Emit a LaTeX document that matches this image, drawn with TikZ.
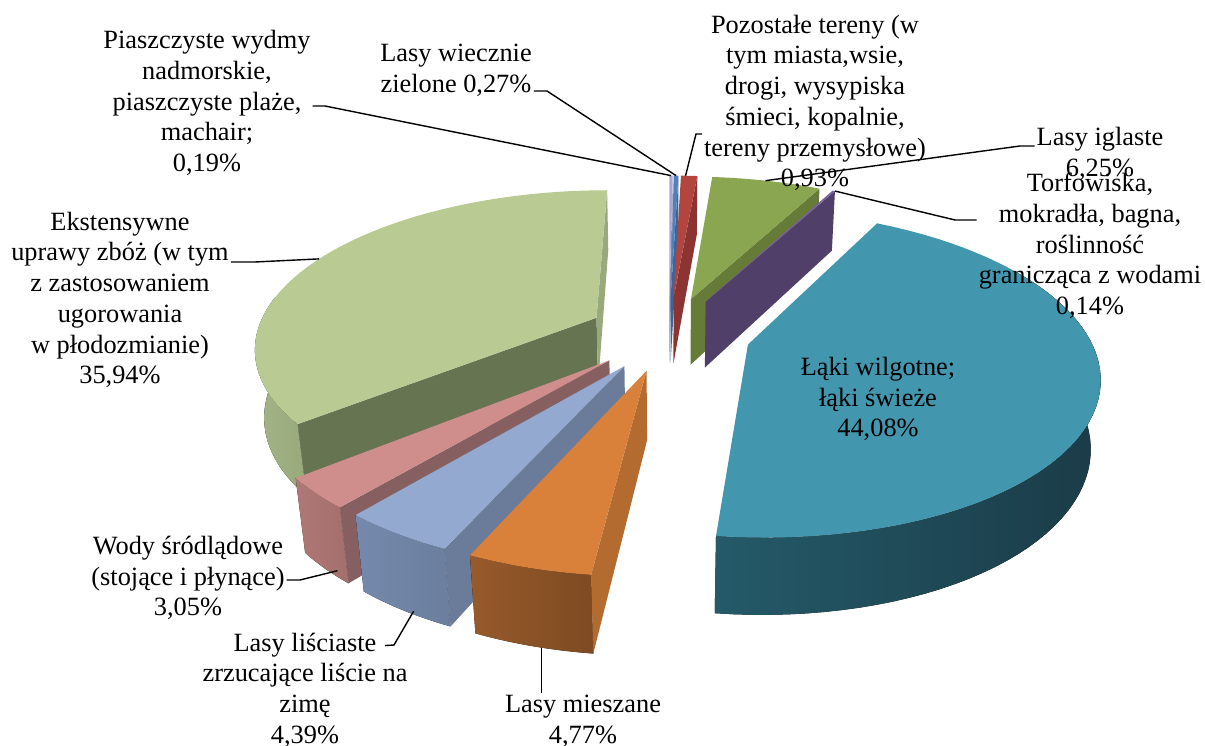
\documentclass[tikz,border=0pt]{standalone}
\usepackage{fontspec}
\setmainfont{Liberation Serif}

% pie seen in perspective (radius 1, height \pieh, explosion \piee)
\newcommand{\pieF}{1696}
\newcommand{\pieD}{5.098}
\newcommand{\piec}{0.872}
\newcommand{\pies}{0.49}
\newcommand{\pieh}{0.228}
\newcommand{\piee}{0.24}

\definecolor{lavTop}{HTML}{ADA6D2}\definecolor{lavSide}{HTML}{8A83AE}
\definecolor{wieTop}{HTML}{4F81BD}\definecolor{wieSide}{HTML}{3D6696}
\definecolor{pozTop}{HTML}{B2463F}\definecolor{pozSide}{HTML}{8C3431}
\definecolor{iglTop}{HTML}{8AA650}\definecolor{iglSide}{HTML}{657B37}
\definecolor{torTop}{HTML}{7A64A0}\definecolor{torSide}{HTML}{503F69}
\definecolor{eksTop}{HTML}{B9CB93}\definecolor{eksSide}{HTML}{677452}
\definecolor{eksWallL}{HTML}{A3B486}\definecolor{eksWallR}{HTML}{98A97B}
\definecolor{lakTop}{HTML}{4297AF}
\definecolor{lakWallL}{HTML}{245A69}\definecolor{lakWallR}{HTML}{1B3B47}
\definecolor{wodTop}{HTML}{CF8E8C}\definecolor{wodSide}{HTML}{866060}
\definecolor{wodWallL}{HTML}{AE7876}\definecolor{wodWallR}{HTML}{A36F6D}
\definecolor{lisTop}{HTML}{93A9D0}\definecolor{lisSide}{HTML}{6A7C9A}
\definecolor{lisWallL}{HTML}{7489AD}\definecolor{lisWallR}{HTML}{6B7E9D}
\definecolor{mieTop}{HTML}{D9803B}\definecolor{mieSide}{HTML}{B36B2F}
\definecolor{mieWallL}{HTML}{975A2B}\definecolor{mieWallR}{HTML}{7E4A21}

\newcommand{\slice}[1]{\pgfmathsetmacro\pmid{#1}}
\newcommand{\pietop}[3]{\fill[#3] ({scrx(\pmid,0,0,\pieh)},{scry(\pmid,0,0,\pieh)})
  -- plot[variable=\x,domain=#1:#2,samples=50] ({scrx(\pmid,\x,1,\pieh)},{scry(\pmid,\x,1,\pieh)}) -- cycle;}
\newcommand{\piewall}[3]{\fill[#3] plot[variable=\x,domain=#1:#2,samples=50] ({scrx(\pmid,\x,1,\pieh)},{scry(\pmid,\x,1,\pieh)})
  -- plot[variable=\x,domain=#2:#1,samples=50] ({scrx(\pmid,\x,1,0)},{scry(\pmid,\x,1,0)}) -- cycle;}
\newcommand{\pieside}[2]{\fill[#2] ({scrx(\pmid,0,0,\pieh)},{scry(\pmid,0,0,\pieh)})
  -- ({scrx(\pmid,#1,1,\pieh)},{scry(\pmid,#1,1,\pieh)}) -- ({scrx(\pmid,#1,1,0)},{scry(\pmid,#1,1,0)})
  -- ({scrx(\pmid,0,0,0)},{scry(\pmid,0,0,0)}) -- cycle;}

\begin{document}
\begin{tikzpicture}[x=0.02cm,y=-0.02cm,
  declare function={
    zz(\aM,\aT,\aR)=\piee*cos(\aM)+\aR*cos(\aT);
    dep(\aM,\aT,\aR,\aH)=\pieD+zz(\aM,\aT,\aR)*\piec-\aH*\pies;
    scrx(\aM,\aT,\aR,\aH)=669+\pieF*(\piee*sin(\aM)+\aR*sin(\aT))/dep(\aM,\aT,\aR,\aH);
    scry(\aM,\aT,\aR,\aH)=401-\pieF*(\aH*\piec+zz(\aM,\aT,\aR)*\pies)/dep(\aM,\aT,\aR,\aH);
  },
  lbl/.style={align=center,font=\fontsize{15}{17.5}\selectfont,inner sep=1pt},
  leader/.style={draw=black,line width=0.8pt}]
\useasboundingbox (0,0) rectangle (1205,746);

% far slices first
\slice{0.342}   \pieside{0.684}{lavSide}  \pietop{0}{0.684}{lavTop}
\slice{1.17}    \pieside{1.656}{wieSide}  \pietop{0.684}{1.656}{wieTop}
\slice{3.33}    \pieside{5.004}{pozSide}  \pietop{1.656}{5.004}{pozTop}
\slice{16.254}  \pieside{27.504}{iglSide} \pietop{5.004}{27.504}{iglTop}
\slice{27.756}  \pieside{28.008}{torSide} \pietop{27.504}{28.008}{torTop}
\slice{295.326} \piewall{230.652}{278}{left color=eksWallL,right color=eksWallR}
  \pieside{230.652}{eksSide} \pieside{360}{eksWallR} \pietop{230.652}{360}{eksTop}
\slice{107.352} \piewall{60}{186.696}{left color=lakWallL,right color=lakWallR}
  \pietop{28.008}{186.696}{lakTop}
\slice{225.162} \piewall{219.672}{230.652}{left color=wodWallL,right color=wodWallR}
  \pieside{219.672}{wodSide} \pietop{219.672}{230.652}{wodTop}
\slice{211.77}  \piewall{203.868}{219.672}{left color=lisWallL,right color=lisWallR}
  \pieside{203.868}{lisSide} \pietop{203.868}{219.672}{lisTop}
\slice{195.282} \piewall{186.696}{203.868}{left color=mieWallL,right color=mieWallR}
  \pieside{186.696}{mieSide} \pietop{186.696}{203.868}{mieTop}

% labels
\node[lbl] (lPias) at (207,103) {Piaszczyste wydmy\\nadmorskie,\\piaszczyste plaże,\\machair;\\0,19\%};
\node[lbl] (lWie) at (456,70) {Lasy wiecznie\\zielone 0,27\%};
\node[lbl] (lPoz) at (815,103) {Pozostałe tereny (w\\tym miasta,wsie,\\drogi, wysypiska\\śmieci, kopalnie,\\tereny przemysłowe)\\0,93\%};
\node[lbl] (lIgl) at (1100,154) {Lasy iglaste\\6,25\%};
\node[lbl] (lTorf) at (1090,246) {Torfowiska,\\mokradła, bagna,\\roślinność\\granicząca z wodami\\0,14\%};
\node[lbl] (lLak) at (878,399) {Łąki wilgotne;\\łąki świeże\\44,08\%};
\node[lbl] (lEks) at (120,300) {Ekstensywne\\uprawy zbóż (w tym\\z zastosowaniem\\ugorowania\\w płodozmianie)\\35,94\%};
\node[lbl] (lWody) at (188,578) {Wody śródlądowe\\(stojące i płynące)\\3,05\%};
\node[lbl] (lLis) at (305,690) {Lasy liściaste\\zrzucające liście na\\zimę\\4,39\%};
\node[lbl] (lMie) at (583,721) {Lasy mieszane\\4,77\%};

% leader ends on the slices
\coordinate (ePias) at ({scrx(0.342,0.342,1,\pieh)},{scry(0.342,0.342,1,\pieh)});
\coordinate (eWie) at ({scrx(1.17,1.17,1,\pieh)},{scry(1.17,1.17,1,\pieh)});
\coordinate (ePoz) at ({scrx(3.33,2.6,1,\pieh)},{scry(3.33,2.6,1,\pieh)});
\coordinate (eIgl) at ({scrx(16.254,16,1,\pieh)},{scry(16.254,16,1,\pieh)});
\coordinate (eTorf) at ({scrx(27.756,28,1,\pieh)},{scry(27.756,28,1,\pieh)});
\coordinate (eEks) at ({scrx(295.326,295,1,\pieh)},{scry(295.326,295,1,\pieh)});
\coordinate (eWody) at ({scrx(225.162,222,1,0.02)},{scry(225.162,222,1,0.02)});
\coordinate (eLis) at ({scrx(211.77,210,1,0.01)},{scry(211.77,210,1,0.01)});
\coordinate (eMie) at ({scrx(195.282,194,1,0)},{scry(195.282,194,1,0)});

% knees
\coordinate (kPias) at (325,106);
\coordinate (kWie) at (547,91);
\coordinate (kPoz) at (696,134);
\coordinate (kIgl) at (1020,146);
\coordinate (kTorf) at (955,220);
\coordinate (kEks) at (255,262);
\coordinate (kWody) at (300,580);
\coordinate (kLis) at (394,645);

\draw[leader] (lPias.east |- kPias) -- (kPias) -- (ePias);
\draw[leader] (lWie.east |- kWie) -- (kWie) -- (eWie);
\draw[leader] (lPoz.west |- kPoz) -- (kPoz) -- (ePoz);
\draw[leader] (lIgl.west |- kIgl) -- (kIgl) -- (eIgl);
\draw[leader] (lTorf.west |- kTorf) -- (kTorf) -- (eTorf);
\draw[leader] (lEks.east |- kEks) -- (kEks) -- (eEks);
\draw[leader] (lWody.east |- kWody) -- (kWody) -- (eWody);
\draw[leader] ([xshift=1.6cm,yshift=-0.3cm]lLis.north) -- (kLis) -- (eLis);
\draw[leader] (eMie) -- (eMie |- lMie.north);
\end{tikzpicture}
\end{document}
